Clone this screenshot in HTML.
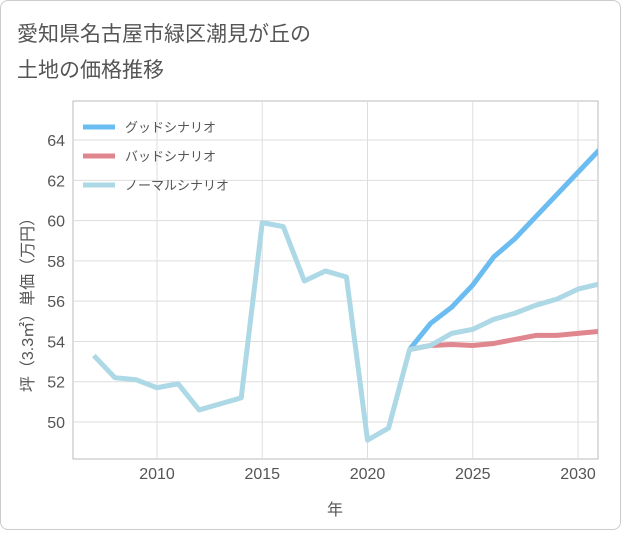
<!DOCTYPE html>
<html><head><meta charset="utf-8"><style>
body{margin:0;background:#fff;font-family:"Liberation Sans","Noto Sans CJK JP",sans-serif;}
#wrap{position:relative;width:619px;height:528px;border:1px solid #ccc;border-radius:8px;background:#fff;}
svg text{font-family:"Liberation Sans","Noto Sans CJK JP",sans-serif;}
</style></head><body>
<div id="wrap">
<svg id="c" width="621" height="530">
<text x="16" y="40" font-size="21" fill="#555">愛知県名古屋市緑区潮見が丘の</text>
<text x="16" y="76" font-size="21" fill="#555">土地の価格推移</text>
</svg>
</div>
<script>
const years=[2007,2008,2009,2010,2011,2012,2013,2014,2015,2016,2017,2018,2019,2020,2021,2022,2023,2024,2025,2026,2027,2028,2029,2030,2031];
const normalVals=[53.3,52.2,52.1,51.7,51.9,50.6,50.9,51.2,59.9,59.7,57.0,57.5,57.2,49.1,49.7,53.6,53.8,54.4,54.6,55.1,55.4,55.8,56.1,56.6,56.85];
const futureYears=[2022,2023,2024,2025,2026,2027,2028,2029,2030,2031];
const goodVals=[53.6,54.9,55.7,56.8,58.2,59.1,60.2,61.3,62.4,63.5];
const badVals=[53.6,53.8,53.85,53.8,53.9,54.1,54.3,54.3,54.4,54.5];
const xTicks=[2010,2015,2020,2025,2030];
const yTicks=[50,52,54,56,58,60,62,64];
const NS="http://www.w3.org/2000/svg";
const svg=document.getElementById('c');
const L=72,R=597,T=100,B=458;
const x=y=>156+(y-2010)*21.05;
const yS=v=>421-(v-50)*20.14;
function mk(t,a){const e=document.createElementNS(NS,t);for(const k in a)e.setAttribute(k,a[k]);svg.appendChild(e);return e;}
const bg=mk('rect',{x:L,y:T,width:R-L,height:B-T,fill:'#fff',stroke:'#bbb','stroke-width':1});


xTicks.forEach(t=>{const g=mk('line',{x1:x(t),x2:x(t),y1:T,y2:B,stroke:'#ddd'});


const l=mk('text',{x:x(t),y:478,'font-size':16,fill:'#555','text-anchor':'middle'});l.textContent=t;

});
yTicks.forEach(t=>{const g=mk('line',{x1:L,x2:R,y1:yS(t),y2:yS(t),stroke:'#ddd'});


const l=mk('text',{x:64,y:yS(t)+6,'font-size':16,fill:'#555','text-anchor':'end'});l.textContent=t;

});
const xt=mk('text',{x:334,y:514,'font-size':16,fill:'#555','text-anchor':'middle'});xt.textContent='年';


const yt=mk('text',{x:0,y:0,'font-size':16,fill:'#555','text-anchor':'middle',transform:'translate(32,300) rotate(-90)'});yt.textContent='坪（3.3㎡）単価（万円）';


function line(xs,vs,col,name){const p=mk('polyline',{points:xs.map((yr,i)=>x(yr)+','+yS(vs[i])).join(' '),fill:'none',stroke:col,'stroke-width':5,'stroke-linejoin':'round','clip-path':'url(#cl)'});

}
const defs=mk('defs',{});defs.innerHTML='<clipPath id="cl"><rect x="'+L+'" y="'+T+'" width="'+(R-L)+'" height="'+(B-T)+'"/></clipPath>';
line(futureYears,goodVals,'#6bbcf0','good-scenario-line');
line(futureYears,badVals,'#e0868e','bad-scenario-line');
line(years,normalVals,'#add8e6','normal-scenario-line');
[['グッドシナリオ','#6bbcf0'],['バッドシナリオ','#e0868e'],['ノーマルシナリオ','#add8e6']].forEach((d,i)=>{
const yy=126+i*29;
const s=mk('line',{x1:82,x2:114,y1:yy,y2:yy,stroke:d[1],'stroke-width':5});


const t=mk('text',{x:124,y:yy+5,'font-size':13,fill:'#555'});t.textContent=d[0];

});
</script>
</body></html>
